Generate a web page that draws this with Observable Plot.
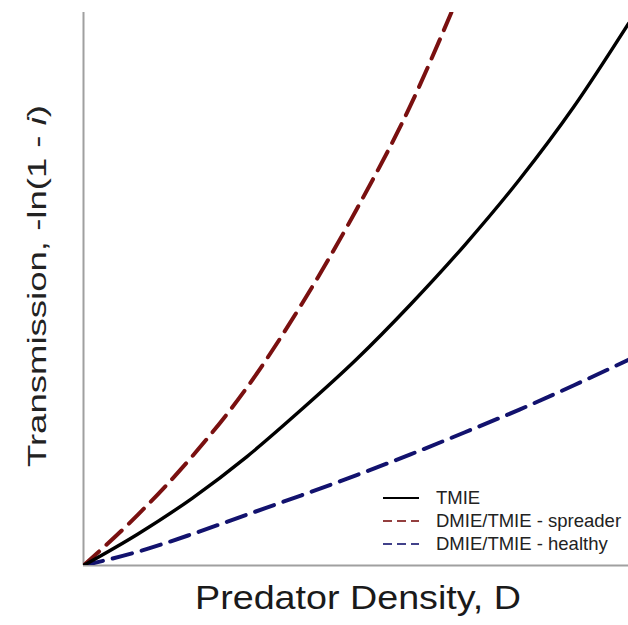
<!DOCTYPE html>
<html>
<head>
<meta charset="utf-8">
<script src="https://cdn.jsdelivr.net/npm/d3@7"></script>
<script src="https://cdn.jsdelivr.net/npm/@observablehq/plot@0.6"></script>
<style>
  html, body { margin: 0; padding: 0; background: #fff; }
  #wrap { position: relative; width: 628px; height: 625px; font-family: Arial, "Liberation Sans", sans-serif; }
  #legend { position: absolute; left: 383px; top: 486px; font-size: 18.5px; color: #222; line-height: 23px; }
  #legend .row { display: flex; align-items: center; white-space: nowrap; }
  #legend svg { margin-right: 17px; }
</style>
</head>
<body>
<div id="wrap"></div>
<script>
// Predator density (arbitrary units) and transmission readings
const densityTMIE = [0, 1, 2, 3, 4, 5, 6, 7, 8, 9, 10];
const transTMIE = [0, 0.57, 1.22, 1.97, 2.82, 3.72, 4.72, 5.8, 6.98, 8.3, 9.8];

const densitySpreader = [0, 1, 2, 3, 4, 5, 6, 6.75];
const transSpreader = [0, 0.92, 1.98, 3.22, 4.72, 6.42, 8.32, 10];

const densityHealthy = [0, 1, 2, 3, 4, 5, 6, 7, 8, 9, 10];
const transHealthy = [0, 0.25, 0.57, 0.92, 1.27, 1.63, 2.01, 2.41, 2.82, 3.26, 3.72];

const seriesNames = ["TMIE", "DMIE/TMIE - spreader", "DMIE/TMIE - healthy"];
const seriesColors = ["#000000", "#7a1010", "#12126e"];

const xLabel = "Predator Density, D";
const yLabelMain = "Transmission, -ln(1 - ";
const yLabelItalic = "i";
const yLabelEnd = ")";

const toRows = (xs, ys) => xs.map((x, i) => ({x, y: ys[i]}));
const tmie = toRows(densityTMIE, transTMIE);
const spreader = toRows(densitySpreader, transSpreader);
const healthy = toRows(densityHealthy, transHealthy);

const chart = Plot.plot({
  width: 628,
  height: 625,
  marginLeft: 83,
  marginRight: 0,
  marginTop: 12,
  marginBottom: 60,
  x: {domain: [0, 10], axis: null},
  y: {domain: [0, 10], axis: null},
  marks: [
    Plot.ruleX([0], {stroke: "#a0a0a0", strokeWidth: 2}),
    Plot.ruleY([0], {stroke: "#a0a0a0", strokeWidth: 2}),
    Plot.line(healthy, {x: "x", y: "y", curve: "monotone-x", stroke: seriesColors[2], strokeWidth: 4, strokeDasharray: "20,10", clip: true}),
    Plot.line(spreader, {x: "x", y: "y", curve: "monotone-x", stroke: seriesColors[1], strokeWidth: 4, strokeDasharray: "21,10", clip: true}),
    Plot.line(tmie, {x: "x", y: "y", curve: "monotone-x", stroke: seriesColors[0], strokeWidth: 3.4, clip: true})
  ]
});

const svg = d3.select(chart);
svg.style("font-family", "Arial, 'Liberation Sans', sans-serif");
svg.append("text")
  .attr("x", 358).attr("y", 609)
  .attr("text-anchor", "middle")
  .attr("font-size", 34)
  .attr("textLength", 326)
  .attr("lengthAdjust", "spacingAndGlyphs")
  .attr("fill", "#1a1a1a")
  .text(xLabel);
const yl = svg.append("text")
  .attr("transform", "translate(46,286) rotate(-90)")
  .attr("text-anchor", "middle")
  .attr("font-size", 26)
  .attr("textLength", 362)
  .attr("lengthAdjust", "spacingAndGlyphs")
  .attr("fill", "#222");
yl.append("tspan").text(yLabelMain);
yl.append("tspan").attr("font-style", "italic").text(yLabelItalic);
yl.append("tspan").text(yLabelEnd);

const wrap = document.getElementById("wrap");
wrap.appendChild(chart);

const legend = document.createElement("div");
legend.id = "legend";
seriesNames.forEach((name, i) => {
  const row = document.createElement("div");
  row.className = "row";
  const sw = d3.create("svg").attr("width", 36).attr("height", 10);
  sw.append("line").attr("x1", 0).attr("x2", 36).attr("y1", 5).attr("y2", 5)
    .attr("stroke", seriesColors[i]).attr("stroke-width", 2)
    .attr("stroke-dasharray", i === 0 ? null : "9,5")
    .attr("opacity", i === 0 ? 1 : 0.8);
  row.appendChild(sw.node());
  const t = document.createElement("span");
  t.textContent = name;
  row.appendChild(t);
  legend.appendChild(row);
});
wrap.appendChild(legend);
</script>
</body>
</html>
